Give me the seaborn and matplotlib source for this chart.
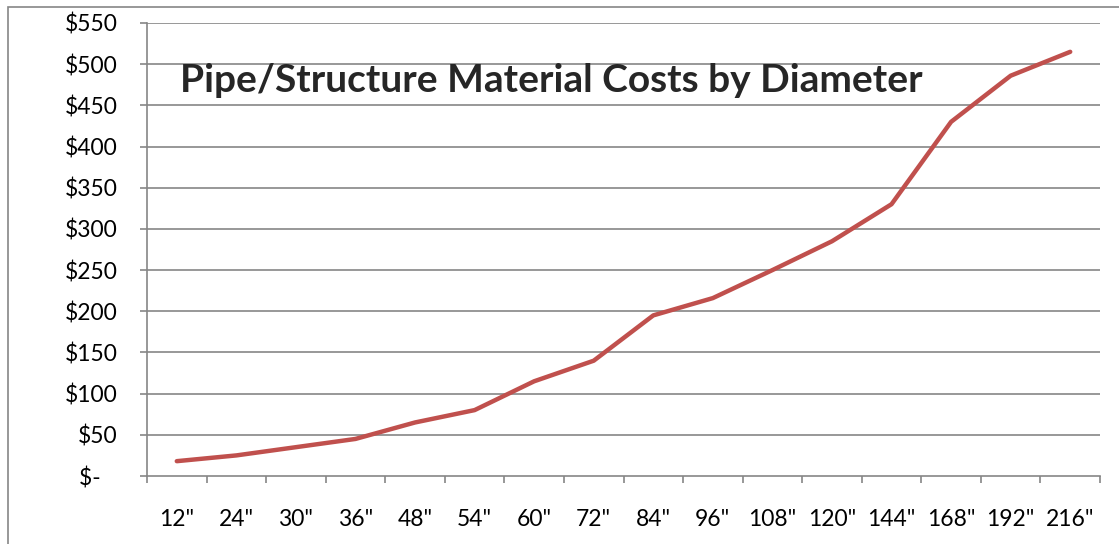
import numpy as np
import pandas as pd
import matplotlib
matplotlib.use("Agg")
import matplotlib.pyplot as plt
import seaborn as sns
from matplotlib.patches import Rectangle

# values
diameters = ['12"', '24"', '30"', '36"', '48"', '54"', '60"', '72"',
             '84"', '96"', '108"', '120"', '144"', '168"', '192"', '216"']
costs = [18, 25, 35, 45, 65, 80, 115, 140, 195, 216, 250, 285, 330, 430, 486, 515]
y_ticks = [0, 50, 100, 150, 200, 250, 300, 350, 400, 450, 500, 550]
y_labels = ["$-   "] + [f"${v}" for v in y_ticks[1:]]

sns.set_style("white")
plt.rcParams["font.family"] = ["Lato", "DejaVu Sans"]

df = pd.DataFrame({"Diameter": diameters, "Cost": costs})
df["pos"] = np.arange(len(diameters))

fig = plt.figure(figsize=(11.19, 5.44), dpi=100)
ax = fig.add_axes([147 / 1119, 1 - 476 / 544, (1100 - 147) / 1119, (476 - 23) / 544])

grid_color = "#868686"
sns.lineplot(data=df, x="pos", y="Cost", ax=ax, color="#C0504D", linewidth=3.2,
             solid_capstyle="round", solid_joinstyle="round", zorder=3)

ax.set_xlim(-0.5, len(diameters) - 0.5)
ax.set_ylim(0, 550)
ax.set_yticks(y_ticks)
ax.set_yticklabels(y_labels)
ax.set_xticks(df["pos"])
ax.set_xticklabels(diameters)
ax.set_xticks(np.arange(-0.5, len(diameters)), minor=True)
ax.set_xlabel("")
ax.set_ylabel("")

for y in y_ticks[1:]:
    ax.axhline(y, color=grid_color, linewidth=1.2, zorder=1)

for side in ["top", "right"]:
    ax.spines[side].set_visible(False)
for side in ["left", "bottom"]:
    ax.spines[side].set_color(grid_color)
    ax.spines[side].set_linewidth(1.2)

ax.tick_params(axis="y", which="major", direction="out", length=5, width=1.2,
               color=grid_color, pad=16, labelsize=16.5, labelcolor="black", left=True)
ax.tick_params(axis="x", which="major", length=0, pad=24, labelsize=16.5, labelcolor="black")
ax.tick_params(axis="x", which="minor", direction="out", length=5, width=1.2,
               color=grid_color, bottom=True)

fig.text(180 / 1119, 1 - 92 / 544, "Pipe/Structure Material Costs by Diameter",
         fontsize=28, fontweight="bold", va="baseline", ha="left")

# outer chart border
fig.patches.append(Rectangle((8 / 1119, -0.1), 1.2, 1 - 7 / 544 + 0.1,
                             transform=fig.transFigure, fill=False,
                             edgecolor=grid_color, linewidth=1.2))

fig.savefig("out.png", dpi=100)
